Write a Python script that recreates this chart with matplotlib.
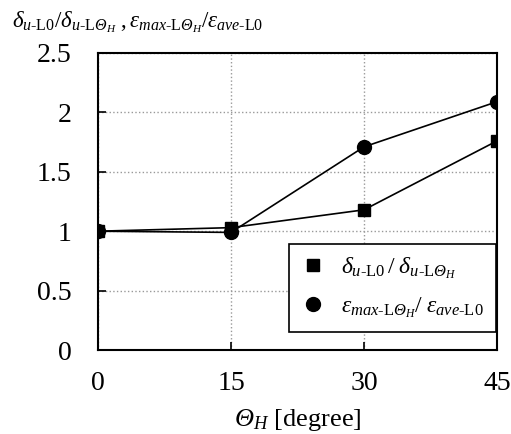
import matplotlib
matplotlib.use("Agg")
import matplotlib.pyplot as plt

plt.rcParams["font.family"] = ["Liberation Serif", "DejaVu Serif"]
plt.rcParams["mathtext.fontset"] = "custom"
plt.rcParams["mathtext.rm"] = "Liberation Serif"
plt.rcParams["mathtext.it"] = "Liberation Serif:italic"
plt.rcParams["mathtext.sf"] = "Liberation Serif:italic"  # used for italic capital Theta
plt.rcParams["mathtext.bf"] = "Liberation Serif:bold"

# data
theta = [0, 15, 30, 45]
delta_ratio = [1.0, 1.03, 1.18, 1.76]
eps_ratio = [1.0, 0.99, 1.71, 2.09]

xticks = [0, 15, 30, 45]
yticks = [0, 0.5, 1, 1.5, 2, 2.5]

TH = r"\mathsf{\Theta}_{H}"

fig = plt.figure(figsize=(5.11, 4.34), dpi=100)
ax = fig.add_axes([0.1918, 0.1935, 0.7808, 0.6844])

ax.plot(theta, delta_ratio, "-", color="black", lw=1.2, marker="s", ms=9,
        label=r"$\delta_{u\mathrm{\text{-}L0}}\,/\;\delta_{u\mathrm{\text{-}L}" + TH + "}$")
ax.plot(theta, eps_ratio, "-", color="black", lw=1.2, marker="o", ms=10,
        label=r"$\varepsilon_{max\mathrm{\text{-}L}" + TH + r"}/\;\varepsilon_{ave\mathrm{\text{-}L0}}$")

ax.set_xlim(0, 45)
ax.set_ylim(0, 2.5)
ax.set_xticks(xticks)
ax.set_yticks(yticks)
ax.set_yticklabels(["0", "0.5", "1", "1.5", "2", "2.5"])
ax.grid(True, color="#999999", linestyle=":", lw=1)
ax.tick_params(direction="in", length=6, width=1.2, labelsize=20)
ax.tick_params(axis="x", pad=15)
ax.tick_params(axis="y", pad=19)
for s in ax.spines.values():
    s.set_linewidth(1.5)

ax.set_xlabel(r"$\mathsf{\Theta}_H$ [degree]", fontsize=19, labelpad=8)

fig.text(0.023, 0.948,
         r"$\delta_{u\mathrm{\text{-}L0}}/\delta_{u\mathrm{\text{-}L}" + TH + r"}\ ,"
         r"\varepsilon_{max\mathrm{\text{-}L}" + TH + r"}/\varepsilon_{ave\mathrm{\text{-}L0}}$",
         fontsize=16.5, ha="left", va="center")

leg = ax.legend(loc="lower right", bbox_to_anchor=(0.997, 0.061), fontsize=17,
                frameon=True, fancybox=False, edgecolor="black", framealpha=1,
                handlelength=1.0, handletextpad=0.7, borderpad=0.5, labelspacing=0.6,
                borderaxespad=0)
leg.get_frame().set_linewidth(1.2)
for h in leg.legend_handles:
    h.set_linestyle("none")

fig.savefig("out.png", dpi=100)
